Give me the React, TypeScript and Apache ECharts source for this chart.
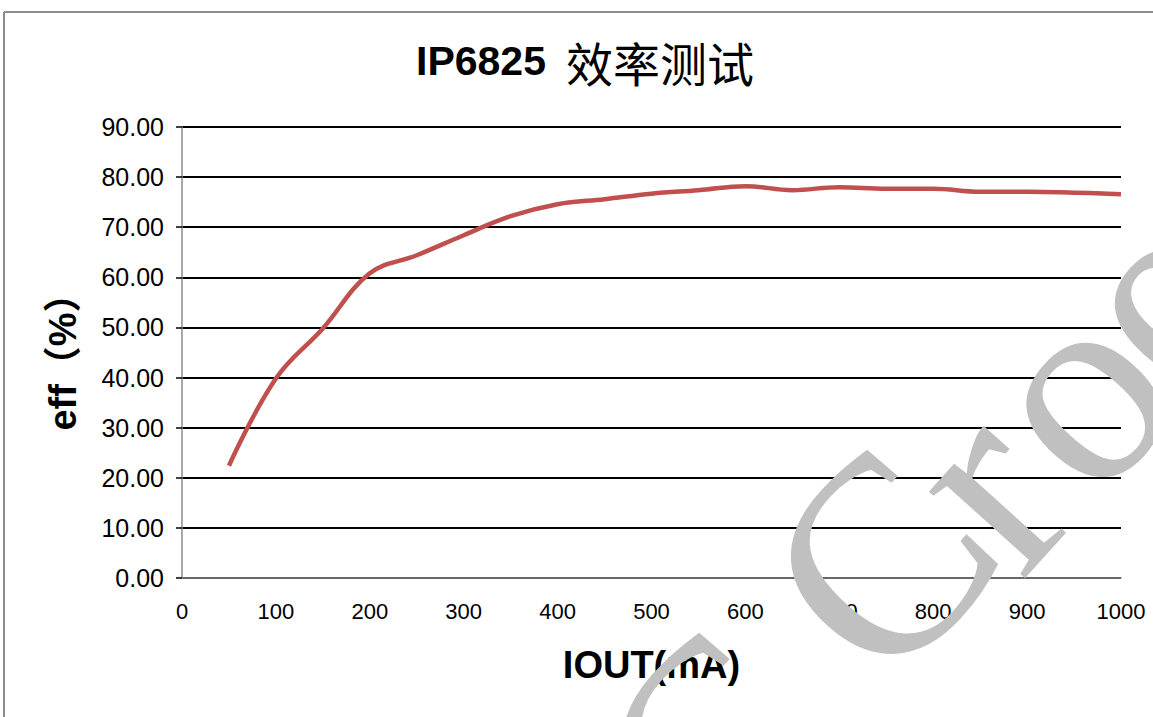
import React, { useEffect, useRef } from "react";
import * as echarts from "echarts";

const currents = [50, 100, 150, 200, 250, 300, 350, 400, 450, 500, 550, 600, 650, 700, 750, 800, 850, 900, 950, 1000];
const efficiency = [22.4, 39.8, 49.8, 60.8, 64.4, 68.4, 72.2, 74.6, 75.6, 76.7, 77.4, 78.2, 77.4, 78.0, 77.7, 77.7, 77.1, 77.1, 76.9, 76.6];
const watermarkLetters = ["C", "r", "o", "e", "C"];
const watermarkX = [880, 982, 1072, 1156, 712];
const watermarkY = [562, 484, 390, 296, 745];

export default function App() {
  const ref = useRef<HTMLDivElement>(null);
  useEffect(() => {
    if (!ref.current) return;
    const chart = echarts.init(ref.current, null, { renderer: "svg" });
    const rot = (48 * Math.PI) / 180;
    const marks = watermarkLetters.map((ch, i) => ({
      type: "text",
      x: watermarkX[i],
      y: watermarkY[i],
      rotation: rot,
      z: 100,
      silent: true,
      style: {
        text: ch,
        font: "282px 'Liberation Serif', serif",
        fill: "#c0c0c0",
        align: "center",
        verticalAlign: "middle",
      },
    }));
    chart.setOption({
      animation: false,
      backgroundColor: "#ffffff",
      title: {
        text: "{a|IP6825}{s| }{b|效率测试}",
        left: 580,
        top: 33,
        textAlign: "center",
        textStyle: {
          fontSize: 40,
          fontFamily: "'Liberation Sans', sans-serif",
          fontWeight: "bold",
          color: "#000",
          rich: {
            a: {
              fontFamily: "'Liberation Sans', sans-serif",
              fontWeight: "bold",
              fontSize: 41,
              color: "#000",
            },
            s: { fontSize: 40, width: 20 },
            b: {
              fontFamily: "'Noto Sans CJK SC', sans-serif",
              fontWeight: "normal",
              fontSize: 47,
              color: "#000",
            },
          },
        },
      },
      grid: { left: 182, right: 32, top: 127, bottom: 139 },
      xAxis: {
        type: "value",
        min: 0,
        max: 1000,
        interval: 100,
        name: "IOUT(mA)",
        nameLocation: "middle",
        nameGap: 68,
        nameTextStyle: {
          fontFamily: "'Liberation Sans Narrow', sans-serif",
          fontWeight: "bold",
          fontSize: 38,
          color: "#000",
        },
        axisLine: { show: true, lineStyle: { color: "#8c8c8c", width: 1.5 } },
        axisTick: { show: false },
        splitLine: { show: false },
        axisLabel: {
          margin: 22,
          fontFamily: "'Liberation Sans Narrow', sans-serif",
          fontSize: 22,
          color: "#000",
          formatter: (v: number) => String(v),
        },
      },
      yAxis: {
        type: "value",
        min: 0,
        max: 90,
        interval: 10,
        name: "eff（%）",
        nameLocation: "middle",
        nameGap: 100,
        nameRotate: 90,
        nameTextStyle: {
          fontFamily: "'Liberation Sans', 'Noto Sans CJK SC', sans-serif",
          fontWeight: "bold",
          fontSize: 38,
          color: "#000",
        },
        axisLine: { show: true, lineStyle: { color: "#8c8c8c", width: 1.5 } },
        axisTick: { show: true, inside: false, length: 6, lineStyle: { color: "#000", width: 1.5 } },
        splitLine: { show: true, lineStyle: { color: "#000", width: 1.8 } },
        axisLabel: {
          margin: 18,
          fontFamily: "'Liberation Sans', sans-serif",
          fontSize: 25,
          color: "#000",
          formatter: (v: number) => v.toFixed(2),
        },
      },
      series: [
        {
          type: "line",
          data: currents.map((c, i) => [c, efficiency[i]]),
          smooth: 0.4,
          showSymbol: false,
          lineStyle: { color: "#C0504D", width: 4.5 },
          z: 3,
        },
      ],
      graphic: [
        {
          type: "line",
          shape: { x1: 4, y1: 12, x2: 1153, y2: 12 },
          style: { stroke: "#8c8c8c", lineWidth: 2 },
          silent: true,
        },
        {
          type: "line",
          shape: { x1: 4, y1: 12, x2: 4, y2: 717 },
          style: { stroke: "#8c8c8c", lineWidth: 2 },
          silent: true,
        },
        ...marks,
      ],
    });
    return () => chart.dispose();
  }, []);
  return (
    <div style={{ position: "absolute", left: 0, top: 0 }}>
      <div ref={ref} style={{ width: 1153, height: 717 }} />
    </div>
  );
}
